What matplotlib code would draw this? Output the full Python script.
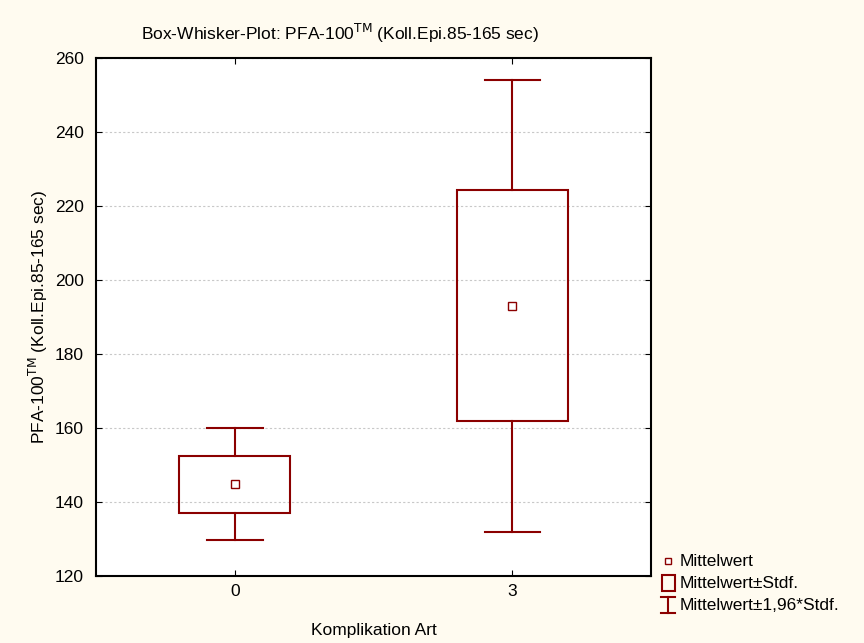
import matplotlib.pyplot as plt
from matplotlib.patches import Rectangle

plt.rcParams['font.family'] = ['Liberation Sans', 'DejaVu Sans']

# data
groups = ['0', '3']
means = [144.8, 193.0]
sds = [7.7, 31.2]
whisk_factor = 1.96

red = '#8b0000'
bg = '#fffbf0'
fs = 12.5

fig = plt.figure(figsize=(8.64, 6.43), dpi=100, facecolor=bg)
ax = fig.add_axes([96 / 864, 1 - 576 / 643, (651 - 96) / 864, (576 - 58) / 643])
ax.set_facecolor('white')

box_w = 0.4
cap_w = 0.2
for i, (m, s) in enumerate(zip(means, sds)):
    lo, hi = m - s, m + s
    wlo, whi = m - whisk_factor * s, m + whisk_factor * s
    ax.add_patch(Rectangle((i - box_w / 2, lo), box_w, hi - lo, fill=False,
                           edgecolor=red, lw=1.5, zorder=3))
    ax.plot([i, i], [hi, whi], color=red, lw=1.5, zorder=3)
    ax.plot([i, i], [wlo, lo], color=red, lw=1.5, zorder=3)
    ax.plot([i - cap_w / 2, i + cap_w / 2], [whi, whi], color=red, lw=1.5, zorder=3)
    ax.plot([i - cap_w / 2, i + cap_w / 2], [wlo, wlo], color=red, lw=1.5, zorder=3)
    ax.plot(i, m, marker='s', ms=6, mfc='white', mec=red, mew=1, zorder=4)

ax.set_xlim(-0.5, 1.5)
ax.set_ylim(120, 260)
ax.set_xticks(range(len(groups)))
ax.set_xticklabels(groups)
ax.set_yticks(range(120, 261, 20))
ax.yaxis.grid(True, linestyle=(0, (2, 2)), color='#c8c8c8', lw=0.8)
ax.set_axisbelow(True)
ax.tick_params(direction='in', top=True, right=True, labelsize=fs, length=4)
ax.tick_params(axis='y', pad=9)
ax.tick_params(axis='x', pad=6)
for sp in ax.spines.values():
    sp.set_linewidth(1.5)

ax.set_xlabel('Komplikation Art', fontsize=fs, labelpad=17)
ax.set_ylabel('PFA-100$^{\\mathrm{TM}}$ (Koll.Epi.85-165 sec)', fontsize=fs, labelpad=3)
fig.text(340 / 864, 1 - 33 / 643, 'Box-Whisker-Plot: PFA-100$^{\\mathrm{TM}}$ (Koll.Epi.85-165 sec)',
         ha='center', va='center', fontsize=fs)

# legend outside, lower right
lx = 668 / 864
fig.add_artist(plt.Line2D([lx], [1 - 561 / 643], marker='s', ms=5, mfc='white', mec=red,
                          mew=1, transform=fig.transFigure))
fig.text(680 / 864, 1 - 561 / 643, 'Mittelwert', va='center', fontsize=fs)
fig.add_artist(Rectangle((662 / 864, 1 - 591 / 643), 13 / 864, 16 / 643, fill=False,
                         edgecolor=red, lw=1.5, transform=fig.transFigure))
fig.text(680 / 864, 1 - 583 / 643, 'Mittelwert±Stdf.', va='center', fontsize=fs)
yb, yt = 1 - 613 / 643, 1 - 597 / 643
fig.add_artist(plt.Line2D([lx, lx], [yb, yt], color=red, lw=1.5, transform=fig.transFigure))
fig.add_artist(plt.Line2D([lx - 7 / 864, lx + 7 / 864], [yb, yb], color=red, lw=1.5,
                          transform=fig.transFigure))
fig.add_artist(plt.Line2D([lx - 7 / 864, lx + 7 / 864], [yt, yt], color=red, lw=1.5,
                          transform=fig.transFigure))
fig.text(680 / 864, 1 - 605 / 643, 'Mittelwert±1,96*Stdf.', va='center', fontsize=fs)

fig.savefig('out.png', dpi=100, facecolor=bg)
